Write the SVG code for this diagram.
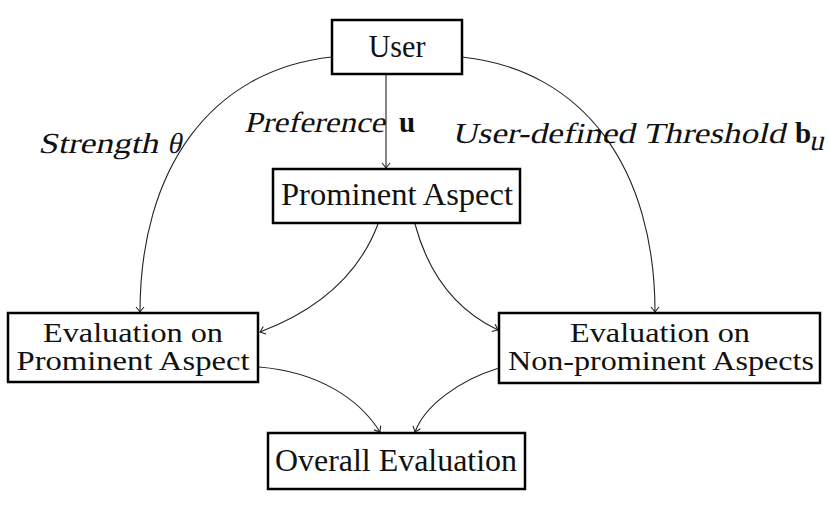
<svg xmlns="http://www.w3.org/2000/svg" width="828" height="506" viewBox="0 0 828 506">
<style>
.box{fill:#fff;stroke:#000;stroke-width:2.5}
.t{font-family:"Liberation Serif","DejaVu Serif",serif;font-size:31px;fill:#111;text-anchor:middle}
.t2{font-size:27px}
.lab{font-family:"Liberation Serif","DejaVu Serif",serif;font-size:29px;fill:#111}
.b{font-weight:bold}
.c{fill:none;stroke:#222;stroke-width:1.1;marker-end:url(#ar)}
</style>
<defs>
<marker id="ar" markerUnits="userSpaceOnUse" markerWidth="12" markerHeight="12" viewBox="-6 -6 12 12" refX="0" refY="0" orient="auto">
<path d="M-5,-4 Q-1.5,-1 0,0 Q-1.5,1 -5,4" fill="none" stroke="#222" stroke-width="1.1"/>
</marker>
</defs>
<g id="connectors">
<path class="c" d="M386,75 L386,168"/>
<path class="c" d="M332,57 C210,70 140,170 140,312"/>
<path class="c" d="M462,57 C585,70 655,170 655,312"/>
<path class="c" d="M378,224 C355,285 305,315 260,332"/>
<path class="c" d="M415,224 C430,280 460,312 498,330"/>
<path class="c" d="M259,367 C320,372 360,400 380,432"/>
<path class="c" d="M499,368 C460,380 425,405 415,432"/>
</g>
<g id="labels">
<g transform="translate(38,153) skewX(-13)">
<text class="lab" x="0" y="0" textLength="120" lengthAdjust="spacingAndGlyphs">Strength</text>
<text class="lab" x="129" y="0">θ</text>
</g>
<g transform="translate(244,132) skewX(-13)">
<text class="lab" x="0" y="0" textLength="141" lengthAdjust="spacingAndGlyphs">Preference</text>
</g>
<text class="lab b" x="399" y="132">u</text>
<g transform="translate(452,143) skewX(-13)">
<text class="lab" x="0" y="0" textLength="333" lengthAdjust="spacingAndGlyphs">User-defined Threshold</text>
</g>
<text class="lab b" x="795" y="143">b</text>
<g transform="translate(809,150) skewX(-13)">
<text class="lab" x="0" y="0" font-size="19">u</text>
</g>
</g>
<g id="user">
<rect class="box" x="332" y="20" width="130" height="54"/>
<text class="t" x="397" y="57" textLength="57" lengthAdjust="spacingAndGlyphs">User</text>
</g>
<g id="prominent">
<rect class="box" x="273" y="169" width="247" height="54"/>
<text class="t" x="397" y="205" textLength="232" lengthAdjust="spacingAndGlyphs">Prominent Aspect</text>
</g>
<g id="evalProminent">
<rect class="box" x="8" y="313" width="250" height="69"/>
<text class="t t2" x="133" y="342" textLength="180" lengthAdjust="spacingAndGlyphs">Evaluation on</text>
<text class="t t2" x="133" y="370" textLength="233" lengthAdjust="spacingAndGlyphs">Prominent Aspect</text>
</g>
<g id="evalNonProminent">
<rect class="box" x="499" y="313" width="321" height="70"/>
<text class="t t2" x="660" y="342" textLength="180" lengthAdjust="spacingAndGlyphs">Evaluation on</text>
<text class="t t2" x="661" y="370" textLength="306" lengthAdjust="spacingAndGlyphs">Non-prominent Aspects</text>
</g>
<g id="overall">
<rect class="box" x="268" y="433" width="257" height="56"/>
<text class="t" x="396" y="471" textLength="242" lengthAdjust="spacingAndGlyphs">Overall Evaluation</text>
</g>
</svg>
